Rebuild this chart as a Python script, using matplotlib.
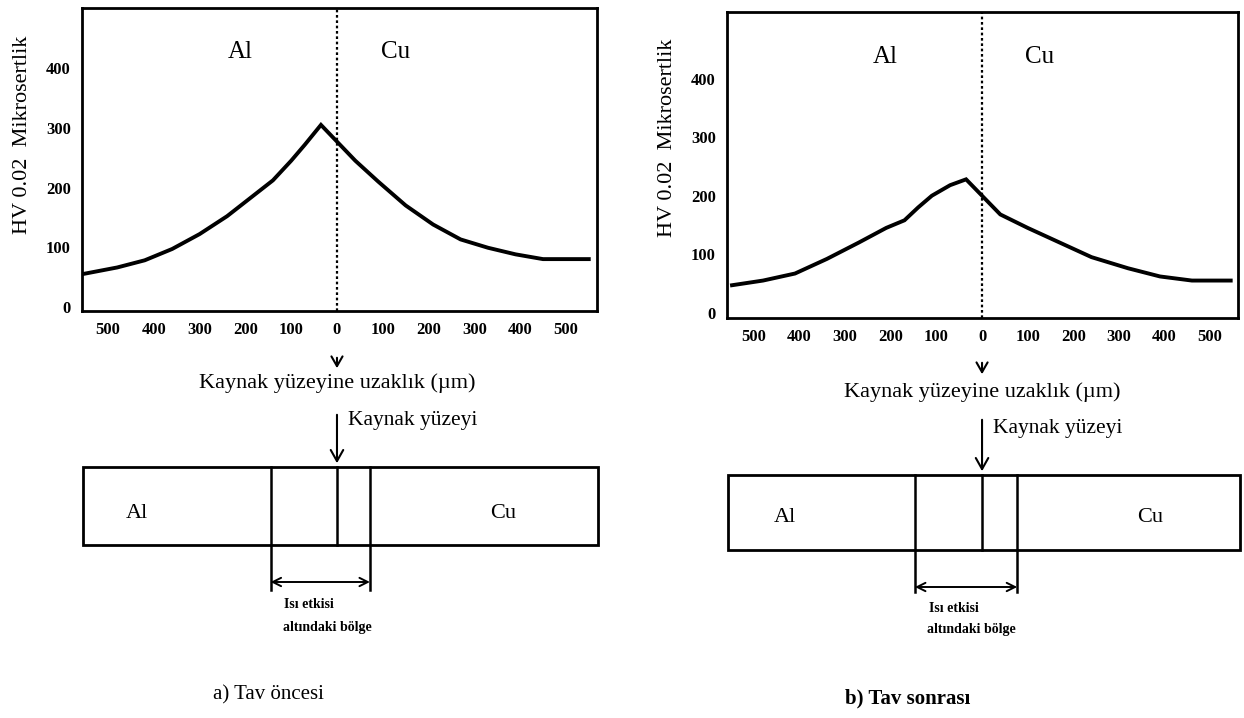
import matplotlib.pyplot as plt
from matplotlib.patches import Rectangle

plt.rcParams['font.family'] = ['Liberation Serif', 'DejaVu Serif']

# distance to weld surface in um (Al side negative), HV 0.02 microhardness
dist_a = [-555, -480, -420, -360, -300, -240, -180, -140, -100, -70, -35, 0,
          40, 90, 150, 210, 270, 330, 390, 450, 500, 550]
hv_a = [55, 66, 78, 97, 122, 152, 188, 212, 245, 272, 305, 277,
        245, 210, 170, 138, 113, 99, 88, 80, 80, 80]

dist_b = [-548, -480, -410, -340, -270, -210, -170, -140, -110, -70, -35, 0,
          40, 100, 170, 240, 320, 390, 460, 545]
hv_b = [47, 55, 67, 92, 120, 145, 158, 180, 200, 218, 228, 200,
        168, 145, 120, 95, 76, 62, 55, 55]

x_ticks = [-500, -400, -300, -200, -100, 0, 100, 200, 300, 400, 500]
x_labels = ['500', '400', '300', '200', '100', '0', '100', '200', '300', '400', '500']
y_ticks = [0, 100, 200, 300, 400]

# heat affected zone limits (um)
haz_a = (-145, 72)
haz_b = (-147, 77)

titles = ['a) Tav öncesi', 'b) Tav sonrası']

W, H = 1244, 718
fig = plt.figure(figsize=(W / 100, H / 100), dpi=100)


def box(x0, y0, x1, y1):
    # pixel box -> figure fraction
    return [x0 / W, 1 - y1 / H, (x1 - x0) / W, (y1 - y0) / H]


panels = [
    dict(dist=dist_a, hv=hv_a, haz=haz_a, title=titles[0], tw='normal',
         chart=(82, 8, 597, 311), xlim=(-557, 568), ylim=(-7, 501),
         label_y=427, ylab_y=0.58,
         arr1=(355, 371), xlab_y=383, arr2=(412, 466), kay_y=420,
         rect=(467, 545, 570), ext=590, dbl=582, isi=(605, 627),
         mat_y=513, al_x=-437, cu_x=362, title_x=-150, title_y=695),
    dict(dist=dist_b, hv=hv_b, haz=haz_b, title=titles[1], tw='bold',
         chart=(727, 12, 1238, 318), xlim=(-559, 561), ylim=(-9, 514),
         label_y=437, ylab_y=0.59,
         arr1=(360, 377), xlab_y=392, arr2=(417, 474), kay_y=428,
         rect=(475, 550, 566), ext=592, dbl=587, isi=(608, 630),
         mat_y=518, al_x=-432, cu_x=368, title_x=-162, title_y=698),
]

for p in panels:
    x0, y0, x1, y1 = p['chart']
    ax = fig.add_axes(box(x0, y0, x1, y1))
    ax.plot(p['dist'], p['hv'], color='black', lw=2.8, solid_joinstyle='miter')
    ax.axvline(0, color='black', lw=1.6, ls=(0, (1.2, 1.2)))
    ax.set_xlim(*p['xlim'])
    ax.set_ylim(*p['ylim'])
    ax.set_xticks(x_ticks)
    ax.set_xticklabels(x_labels)
    ax.set_yticks(y_ticks)
    ax.tick_params(length=0, labelsize=12, pad=8)
    for t in ax.get_xticklabels() + ax.get_yticklabels():
        t.set_fontweight('bold')
    for s in ax.spines.values():
        s.set_linewidth(2)
    ax.set_ylabel('HV 0.02  Mikrosertlik', fontsize=16)
    ax.yaxis.set_label_coords(-0.098, p['ylab_y'])
    ax.text(-212, p['label_y'], 'Al', fontsize=18, ha='center', va='center')
    ax.text(127, p['label_y'], 'Cu', fontsize=18, ha='center', va='center')

    # schematic of the joint below the chart, same x scale
    sx = fig.add_axes(box(x0, 320, x1, 718))
    sx.set_xlim(*p['xlim'])
    sx.set_ylim(718, 320)
    sx.axis('off')

    sx.annotate('', xy=(0, p['arr1'][1]), xytext=(0, p['arr1'][0]),
                arrowprops=dict(arrowstyle='->,head_length=0.7,head_width=0.4', lw=1.5, color='black'))
    sx.text(0, p['xlab_y'], 'Kaynak yüzeyine uzaklık (µm)', fontsize=16,
            ha='center', va='center')
    sx.annotate('', xy=(0, p['arr2'][1]), xytext=(0, p['arr2'][0]),
                arrowprops=dict(arrowstyle='->,head_length=0.8,head_width=0.45', lw=1.5, color='black'))
    sx.text(25, p['kay_y'], 'Kaynak yüzeyi', fontsize=15.5, ha='left', va='center')

    rt, rb, rr = p['rect']
    sx.add_patch(Rectangle((p['xlim'][0] + 2, rt), rr - p['xlim'][0] - 2, rb - rt,
                           fill=False, lw=2, ec='black', clip_on=False))
    h1, h2 = p['haz']
    sx.plot([h1, h1], [rt, p['ext']], color='black', lw=1.8)
    sx.plot([h2, h2], [rt, p['ext']], color='black', lw=1.8)
    sx.plot([0, 0], [rt, rb], color='black', lw=1.8)
    sx.annotate('', xy=(h1, p['dbl']), xytext=(h2, p['dbl']),
                arrowprops=dict(arrowstyle='<->,head_length=0.6,head_width=0.3', lw=1.4, color='black',
                                shrinkA=0, shrinkB=0))
    sx.text(h1 + 30, p['isi'][0], 'Isı etkisi', fontsize=10, fontweight='bold', ha='left', va='center')
    sx.text(h1 + 26, p['isi'][1], 'altındaki bölge', fontsize=10, fontweight='bold', ha='left', va='center')
    sx.text(p['al_x'], p['mat_y'], 'Al', fontsize=16, ha='center', va='center')
    sx.text(p['cu_x'], p['mat_y'], 'Cu', fontsize=16, ha='center', va='center')
    sx.text(p['title_x'], p['title_y'], p['title'], fontsize=15, fontweight=p['tw'],
            ha='center', va='center')

fig.savefig('out.png', dpi=100)
